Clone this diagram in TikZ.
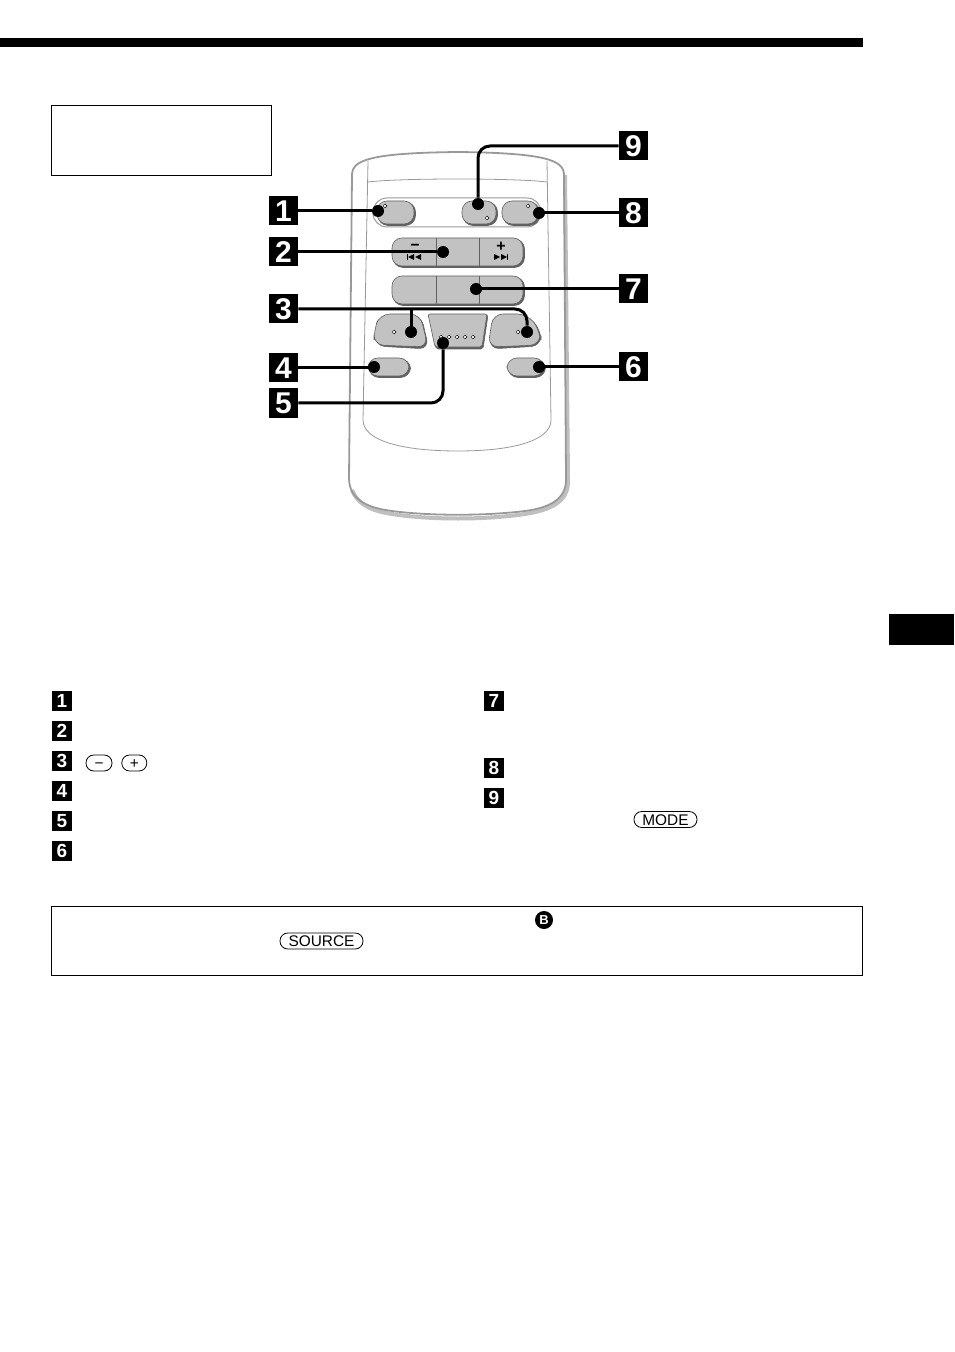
\documentclass[tikz,border=0pt]{standalone}
\usepackage{fontspec}
\setmainfont{Liberation Sans}
\usetikzlibrary{positioning,calc,shapes.geometric}
\definecolor{btnfill}{gray}{0.76}
\definecolor{btnedge}{gray}{0.38}
\definecolor{caseline}{gray}{0.6}
\definecolor{caseshade}{gray}{0.75}
\tikzset{
  bigtag/.style={fill=black,text=white,minimum size=14.5pt,inner sep=0pt,font=\fontsize{15}{15}\selectfont\bfseries},
  smalltag/.style={fill=black,text=white,minimum size=9.7pt,inner sep=0pt,font=\fontsize{9.5}{10}\selectfont\bfseries},
  leaddot/.style={circle,fill=black,minimum size=6pt,inner sep=0pt},
  leader/.style={line width=1.5pt,rounded corners=6pt},
  pill/.style={draw,rounded corners=3.9pt,line width=0.4pt,inner sep=0pt,minimum height=8pt,text height=5.5pt,text depth=0pt,font=\fontsize{7.7}{8}\selectfont},
  btn/.style={fill=btnfill,draw=btnedge,line width=0.3pt,rounded corners=5pt},
  btnshade/.style={fill=btnedge,draw=btnedge,line width=0.3pt,rounded corners=5pt},
  led/.style={diamond,draw,fill=white,line width=0.25pt,minimum size=2pt,inner sep=0pt}
}
\begin{document}
\begin{tikzpicture}[x=0.5pt,y=-0.5pt]
\useasboundingbox (0,0) rectangle (954,1352);
\fill (0,38) rectangle (863,47);
\fill (889,614) rectangle (954,645);
\draw [line width=0.5pt] (51.5,105.5) rectangle (271.5,175.5);
\draw [line width=0.5pt] (51.5,906.5) rectangle (862.5,975.5);

% remote case
\draw [caseshade,line width=2pt] (565,175) -- (568,480) .. controls (569,502) and (550,510) .. (525,514)
   .. controls (485,520) and (430,520) .. (392,514) .. controls (372,511) and (358,505) .. (352,490);
\draw [caseline,line width=0.9pt] (352,175) .. controls (352,160) and (370,153) .. (458,152)
   .. controls (545,153) and (564,160) .. (564,175) -- (566,480) .. controls (566,500) and (548,508) .. (525,511)
   .. controls (485,516) and (430,516) .. (392,511) .. controls (368,508) and (349,500) .. (349,478) -- cycle;
\draw [caseline,line width=0.4pt] (368,161) -- (363,420) .. controls (363,440) and (400,451) .. (458,451)
   .. controls (515,451) and (551,440) .. (551,420) -- (547,161);
\draw [caseline,line width=0.4pt] (368,182) .. controls (400,178) and (515,178) .. (547,182);
\draw [caseline,line width=0.5pt,rounded corners=7pt] (373,198) rectangle (541,227);

% keys
\foreach \xa/\ya/\xb/\yb in {377/201/414/224,462/201/496/224,502/201/538/224,392/238/523/266,392/276/523/304,368/358/409/376,507/358/544/376} {
  \path [btnshade] (\xa+1,\ya+1) rectangle (\xb+1.5,\yb+1.5);
  \path [btn] (\xa,\ya) rectangle (\xb,\yb);
}
\foreach \yy/\yz in {238/266,276/304} {
  \draw [btnedge,line width=0.4pt] (436,\yy) -- (436,\yz);
  \draw [btnedge,line width=0.4pt] (479,\yy) -- (479,\yz);
}
\path [btnshade] (381,315) -- (421,315) -- (429,349) -- (375,346) -- (375,330) -- cycle;
\path [btn] (380,314) -- (420,314) -- (428,347) -- (374,345) -- (374,330) -- cycle;
\path [btnshade,rounded corners=1pt] (429,315) -- (488,315) -- (483,349) -- (436,349) -- cycle;
\path [btn,rounded corners=1pt] (428,314) -- (487,314) -- (482,347) -- (435,347) -- cycle;
\path [btnshade] (494,315) -- (527,315) -- (541,330) -- (541,346) -- (489,349) -- cycle;
\path [btn] (493,314) -- (527,314) -- (540,330) -- (540,345) -- (488,347) -- cycle;

% printed marks on keys
\foreach \xx/\yy [count=\i] in {385/206,487/218,528/206,394/332,518/332,441/337,449/337,457/337,465/337,473/337}
  \node [led] (Led\i) at (\xx,\yy) {};
\node [inner sep=0pt,font=\fontsize{8}{8}\selectfont\bfseries] (KeyMinus) at (415,247) {−};
\node [inner sep=0pt,font=\fontsize{8}{8}\selectfont\bfseries] (KeyPlus) at (501,247) {+};
\fill (407,254) rectangle (408,260);
\fill (414,254) -- (414,260) -- (408,257) -- cycle;
\fill (421,254) -- (421,260) -- (415,257) -- cycle;
\fill (494,254) -- (494,260) -- (500,257) -- cycle;
\fill (501,254) -- (501,260) -- (507,257) -- cycle;
\fill (507,254) rectangle (508,260);

% tags and leaders
\foreach \n/\yy in {1/211,2/252,3/309,4/368,5/403}
  \node [bigtag] (Tag\n) at (283.5,\yy) {\n};
\foreach \n/\yy in {9/146,8/213,7/289,6/367}
  \node [bigtag] (Tag\n) at (633.5,\yy) {\n};
\foreach \n/\xx/\yy in {1/378/211,2/443/252,4/374/367,6/539/367,7/476/289,8/539/213,9/478/204}
  \node [leaddot] (Dot\n) at (\xx,\yy) {};
\node [leaddot] (Dot3a) at (411,332) {};
\node [leaddot] (Dot3b) at (527,332) {};
\node [leaddot] (Dot5) at (443,343) {};
\draw [leader] (Tag1) -- (Dot1);
\draw [leader] (Tag2) -- (Dot2);
\draw [leader] (Tag4) -- (Tag4 -| Dot4);
\draw [leader] (Tag6) -- (Tag6 -| Dot6);
\draw [leader] (Tag7) -- (Tag7 -| Dot7);
\draw [leader] (Tag8) -- (Tag8 -| Dot8);
\draw [leader] (Tag9) -- (Tag9 -| Dot9) -- (Dot9);
\draw [leader] (Tag3) -- (Tag3 -| Dot3b) -- (Dot3b);
\draw [line width=1.5pt] (Tag3 -| Dot3a) -- (Dot3a);
\draw [leader] (Tag5) -- (Tag5 -| Dot5) -- (Dot5);

% key list
\foreach \n/\yy in {1/701,2/731,3/761,4/791,5/821,6/851}
  \node [smalltag] (Item\n) at (62,\yy) {\n};
\foreach \n/\yy in {7/701,8/768,9/798}
  \node [smalltag] (Item\n) at (494,\yy) {\n};
\node [pill,minimum width=13pt] (PillMinus) at (99,763) {−};
\node [pill,minimum width=12.5pt,right=4.5pt of PillMinus] (PillPlus) {+};
\node [pill,minimum width=31.5pt] (PillMode) at (665.5,819.5) {MODE};
\node [pill,minimum width=41.5pt] (PillSource) at (321.5,941) {SOURCE};
\node [circle,fill=black,text=white,minimum size=9pt,inner sep=0pt,font=\fontsize{6.5}{7}\selectfont\bfseries] (MarkB) at (544,920) {B};
\end{tikzpicture}
\end{document}
